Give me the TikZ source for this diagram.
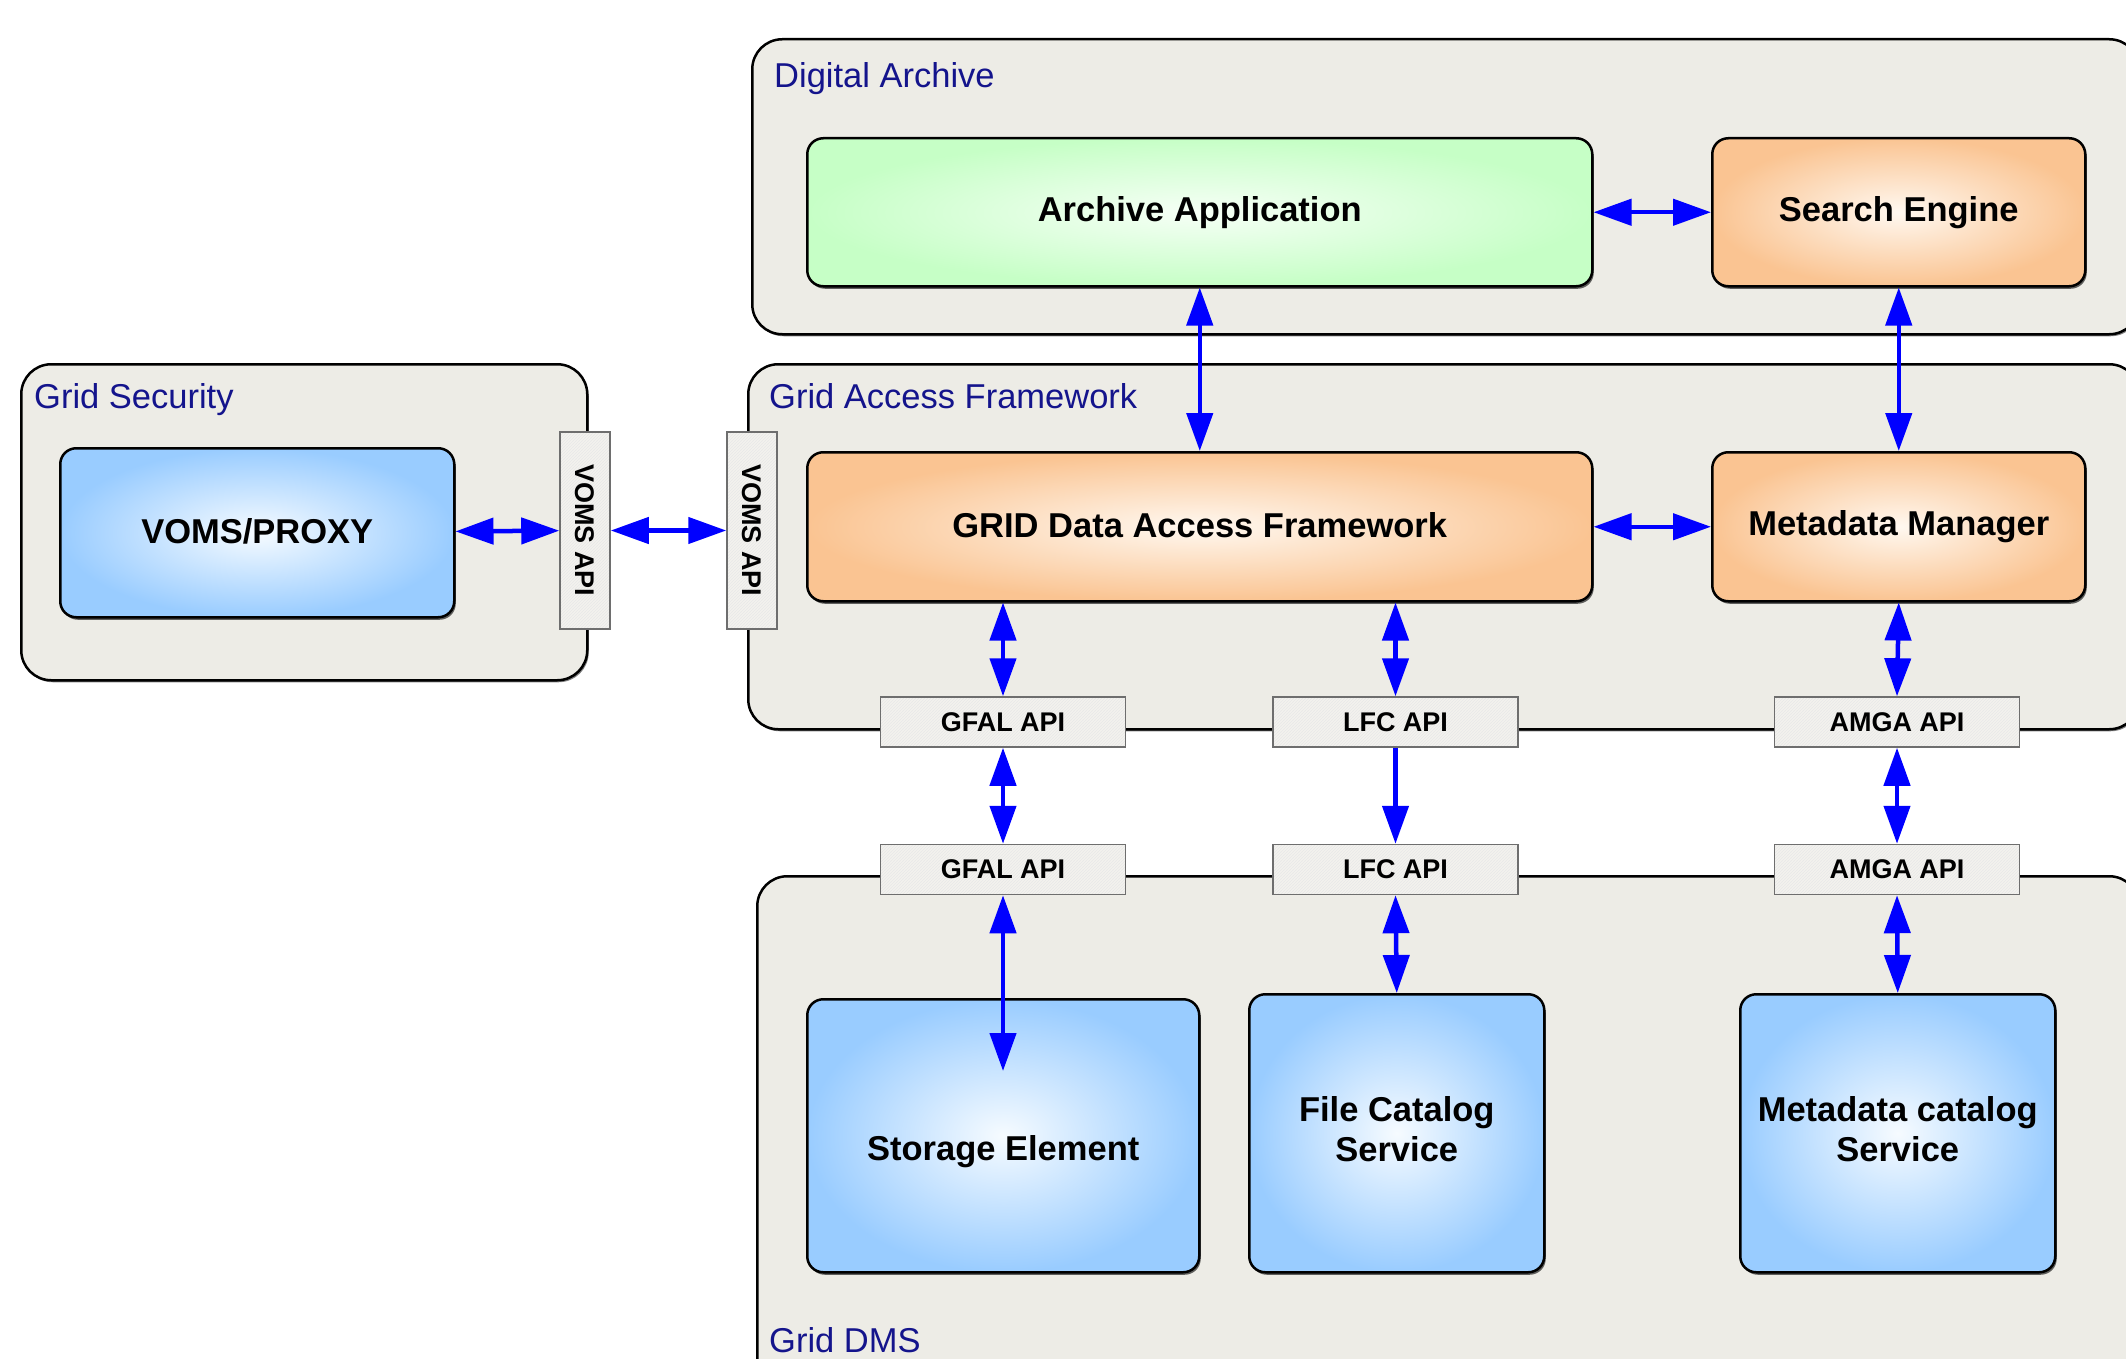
\documentclass[tikz,border=0pt]{standalone}
\usepackage{fontspec}
\setmainfont{Liberation Sans}
\usetikzlibrary{arrows.meta,shadows,patterns}
\definecolor{contbg}{RGB}{237,236,230}
\definecolor{blueout}{RGB}{153,204,255}
\definecolor{bluein}{RGB}{246,251,255}
\definecolor{orgout}{RGB}{250,196,146}
\definecolor{orgin}{RGB}{255,248,240}
\definecolor{grnout}{RGB}{198,255,198}
\definecolor{grnin}{RGB}{246,255,246}
\definecolor{apibg}{RGB}{243,242,238}
\definecolor{apiline}{RGB}{110,110,110}
\definecolor{labelc}{RGB}{20,20,140}
\definecolor{arrblue}{RGB}{0,0,255}
\newcommand\bigfont{\fontsize{34.5}{40}\selectfont}
\newcommand\apifont{\fontsize{27}{32}\selectfont}
\begin{document}
\begin{tikzpicture}[x=1pt,y=-1pt,
  container/.style={draw=black, line width=2.5pt, fill=contbg, rounded corners=30pt,
    anchor=north west, inner sep=0pt,
    drop shadow={shadow xshift=1.5pt, shadow yshift=-2pt, fill=black, opacity=0.5}},
  box/.style={draw=black, line width=2.5pt, rounded corners=16pt, anchor=north west,
    inner sep=0pt, align=center, font=\bfseries\bigfont,
    drop shadow={shadow xshift=1.5pt, shadow yshift=-2.5pt, fill=black, opacity=0.6}},
  bluebox/.style={box, inner color=bluein, outer color=blueout},
  orgbox/.style={box, inner color=orgin, outer color=orgout},
  grnbox/.style={box, inner color=grnin, outer color=grnout},
  api/.style={draw=apiline, line width=1.5pt, inner sep=0pt,
    preaction={fill=apibg},
    preaction={pattern=north east lines, pattern color=black!9},
    minimum width=245pt, minimum height=50pt, font=\bfseries\apifont},
  vapi/.style={api, rotate=-90, minimum width=197pt, minimum height=50pt},
  lbl/.style={text=labelc, font=\bigfont, inner sep=0pt, anchor=base west},
  arr/.style={draw=arrblue, line width=4.5pt,
    {Triangle[length=38pt,width=26pt]}-{Triangle[length=38pt,width=26pt]}},
  arrone/.style={draw=arrblue, line width=4.5pt, -{Triangle[length=38pt,width=26pt]}}
]
\useasboundingbox (0,0) rectangle (2126,1359);
\clip (0,0) rectangle (2126,1359);
\fill[white] (0,0) rectangle (2126,1359);

% containers
\node[container, minimum width=1387pt, minimum height=295pt] (cda) at (751,38) {};
\node[container, minimum width=566pt, minimum height=316pt] (cgs) at (20,363) {};
\node[container, minimum width=1391pt, minimum height=365pt] (cgaf) at (747,363) {};
\node[container, minimum width=1382pt, minimum height=600pt] (cdms) at (756,875) {};

% container labels
\node[lbl] (lda) at (774,88) {Digital Archive};
\node[lbl] (lgs) at (34,408) {Grid Security};
\node[lbl] (lgaf) at (769,408) {Grid Access Framework};
\node[lbl] (ldms) at (769,1352) {Grid DMS};

% boxes
\node[grnbox, minimum width=785pt, minimum height=148pt] (aa) at (806,137) {Archive Application};
\node[orgbox, minimum width=373pt, minimum height=148pt] (se) at (1711,137) {Search Engine};
\node[orgbox, minimum width=785pt, minimum height=149pt] (gdaf) at (806,451) {\raisebox{3pt}{GRID Data Access Framework}};
\node[orgbox, minimum width=373pt, minimum height=149pt] (mm) at (1711,451) {Metadata Manager};
\node[bluebox, minimum width=394pt, minimum height=169pt] (voms) at (59,447) {\raisebox{3pt}{VOMS/PROXY}};
\node[bluebox, minimum width=392pt, minimum height=273pt] (sel) at (806,998) {\raisebox{-25pt}[0pt][0pt]{Storage Element}};
\node[bluebox, minimum width=295pt, minimum height=278pt] (fcs) at (1248,993) {\raisebox{5pt}{\begin{tabular}{@{}c@{}}File Catalog\\Service\end{tabular}}};
\node[bluebox, minimum width=315pt, minimum height=278pt] (mcs) at (1739,993) {\raisebox{5pt}{\begin{tabular}{@{}c@{}}Metadata catalog\\Service\end{tabular}}};

% API boxes
\node[vapi] (vapi1) at (585,530.5) {VOMS API};
\node[vapi] (vapi2) at (752,530.5) {VOMS API};
\node[api] (gfal1) at (1003,722) {GFAL API};
\node[api] (lfc1) at (1395.5,722) {LFC API};
\node[api] (amga1) at (1897,722) {AMGA API};
\node[api] (gfal2) at (1003,869.5) {GFAL API};
\node[api] (lfc2) at (1395.5,869.5) {LFC API};
\node[api] (amga2) at (1897,869.5) {AMGA API};

\coordinate (setip) at (1003,1071);

% connectors
\draw[arr] (aa) -- (se);
\draw[arr] (gdaf) -- (mm);
\draw[arr] (voms) -- (vapi1);
\draw[arr] (vapi1) -- (vapi2);
\draw[arr] (aa.south) -- (gdaf.north);
\draw[arr] (se.south) -- (mm.north);
\draw[arr] (gdaf.south -| gfal1.north) -- (gfal1.north);
\draw[arr] (gdaf.south -| lfc1.north) -- (lfc1.north);
\draw[arr] (mm.south) -- (amga1.north);
\draw[arr] (gfal1.south) -- (gfal2.north);
\draw[arrone] (lfc1.south) -- (lfc2.north);
\draw[arr] (amga1.south) -- (amga2.north);
\draw[arr] (gfal2.south) -- (setip);
\draw[arr] (lfc2.south) -- (fcs.north);
\draw[arr] (amga2.south) -- (mcs.north);
\end{tikzpicture}
\end{document}
